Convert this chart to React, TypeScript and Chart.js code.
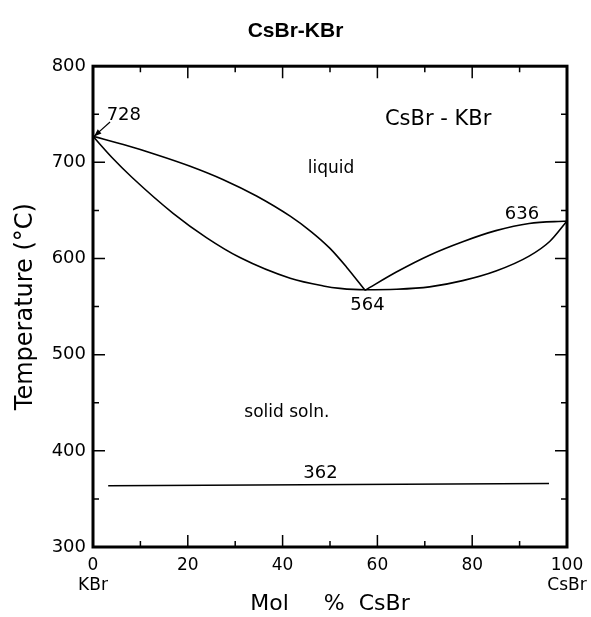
import React, { useEffect, useRef } from 'react';
import { Chart, registerables } from 'chart.js';

Chart.register(...registerables);

// Upper-left liquidus: from KBr melting point down to the 564 point
const curveAX = [0, 6.4, 13.4, 20.5, 27.5, 34.5, 41.6, 46, 50, 53.5, 57.4];
const curveAT = [727, 718.5, 708, 696, 682, 665, 644, 628, 610.5, 591, 567];

// Lower curve: from 728 down through the minimum and up to 636
const curveBX = [0, 4, 8.2, 16.9, 24, 31, 41.6, 48.6, 52.1, 57.4, 64, 71, 78, 85, 92, 96.4, 100];
const curveBT = [727, 705, 684.5, 647, 621.5, 601, 579.5, 571.5, 569, 567.5, 568, 570.5, 577, 587, 602.5, 618, 639];

// Upper-right liquidus: from the 564 point up to CsBr melting point
const curveCX = [57.4, 64, 71, 78, 85, 92, 100];
const curveCT = [567, 586, 603.5, 617.5, 629, 636.5, 639];

// 362 horizontal line
const lineX = [3.2, 96.2];
const lineT = [363.7, 366];

// Axis ticks
const xMajorTicks = [0, 20, 40, 60, 80, 100];
const xTickLabels: (string | string[])[] = [['0', 'KBr'], '20', '40', '60', '80', ['100', 'CsBr']];
const xAllTicks = [0, 10, 20, 30, 40, 50, 60, 70, 80, 90, 100];
const yAllTicks = [300, 350, 400, 450, 500, 550, 600, 650, 700, 750, 800];

// Text annotations (data coordinates)
const annTexts = ['728', 'CsBr - KBr', 'liquid', '636', '564', 'solid soln.', '362'];
const annX = [6.5, 72.8, 50.2, 90.5, 57.9, 40.9, 48];
const annT = [749, 745, 694, 646, 551, 439.5, 377];
const annSize = [18, 21, 17, 18, 18, 17, 18];

// Arrow from "728" label to the melting point
const arrowFrom = [3.6, 742];
const arrowTo = [0, 727];

const FONT = "'DejaVu Sans', sans-serif";

function pts(xs: number[], ys: number[]) {
  return xs.map((x, i) => ({ x, y: ys[i] }));
}

const decorPlugin = {
  id: 'decor',
  afterDatasetsDraw(chart: any) {
    const { ctx, chartArea } = chart;
    const { left, right, top, bottom } = chartArea;
    const xs = chart.scales.x;
    const ys = chart.scales.y;
    ctx.save();
    ctx.strokeStyle = '#000';
    ctx.fillStyle = '#000';
    ctx.lineCap = 'butt';
    // inward ticks
    ctx.lineWidth = 1.5;
    ctx.beginPath();
    for (const v of xAllTicks) {
      const px = xs.getPixelForValue(v);
      const len = v % 20 === 0 ? 12 : 6;
      ctx.moveTo(px, bottom);
      ctx.lineTo(px, bottom - len);
      ctx.moveTo(px, top);
      ctx.lineTo(px, top + len);
    }
    for (const v of yAllTicks) {
      const py = ys.getPixelForValue(v);
      const len = v % 100 === 0 ? 12 : 6;
      ctx.moveTo(left, py);
      ctx.lineTo(left + len, py);
      ctx.moveTo(right, py);
      ctx.lineTo(right - len, py);
    }
    ctx.stroke();
    // frame
    ctx.lineWidth = 3;
    ctx.strokeRect(left, top, right - left, bottom - top);
    // annotations
    ctx.textAlign = 'center';
    ctx.textBaseline = 'middle';
    annTexts.forEach((t, i) => {
      ctx.font = `${annSize[i]}px ${FONT}`;
      ctx.fillText(t, xs.getPixelForValue(annX[i]), ys.getPixelForValue(annT[i]));
    });
    // arrow
    const x1 = xs.getPixelForValue(arrowFrom[0]);
    const y1 = ys.getPixelForValue(arrowFrom[1]);
    const x2 = xs.getPixelForValue(arrowTo[0]) + 1;
    const y2 = ys.getPixelForValue(arrowTo[1]);
    ctx.lineWidth = 1.2;
    ctx.beginPath();
    ctx.moveTo(x1, y1);
    ctx.lineTo(x2, y2);
    ctx.stroke();
    const ang = Math.atan2(y2 - y1, x2 - x1);
    const hl = 8;
    ctx.beginPath();
    ctx.moveTo(x2, y2);
    ctx.lineTo(x2 - hl * Math.cos(ang - 0.35), y2 - hl * Math.sin(ang - 0.35));
    ctx.lineTo(x2 - hl * Math.cos(ang + 0.35), y2 - hl * Math.sin(ang + 0.35));
    ctx.closePath();
    ctx.fill();
    ctx.restore();
  },
};

export default function App() {
  const ref = useRef<HTMLCanvasElement>(null);
  useEffect(() => {
    if (!ref.current) return;
    const lineDs = (data: any[], smooth = true) => ({
      data,
      showLine: true,
      borderColor: '#000',
      borderWidth: 1.6,
      pointRadius: 0,
      fill: false,
      cubicInterpolationMode: smooth ? 'monotone' : 'default',
      tension: 0,
    });
    const chart = new Chart(ref.current, {
      type: 'scatter',
      data: {
        datasets: [
          lineDs(pts(curveAX, curveAT)),
          lineDs(pts(curveBX, curveBT)),
          lineDs(pts(curveCX, curveCT)),
          lineDs(pts(lineX, lineT), false),
        ] as any,
      },
      options: {
        responsive: false,
        animation: false,
        layout: { padding: { left: 24, right: 24, top: 0, bottom: 0 } },
        plugins: {
          legend: { display: false },
          tooltip: { enabled: false },
          title: {
            display: true,
            text: 'CsBr-KBr',
            color: '#000',
            font: { family: "'Liberation Sans', Arial, sans-serif", size: 21, weight: 'bold' },
            padding: { top: 19, bottom: 22 },
          },
        },
        scales: {
          x: {
            type: 'linear',
            min: 0,
            max: 100,
            grid: { display: false, drawTicks: false },
            border: { display: false },
            afterBuildTicks: (s: any) => {
              s.ticks = xMajorTicks.map((v) => ({ value: v }));
            },
            afterFit: (s: any) => {
              s.height = 70;
              s.paddingLeft = 0;
              s.paddingRight = 0;
            },
            ticks: {
              color: '#000',
              padding: 8,
              maxRotation: 0,
              autoSkip: false,
              font: { family: FONT, size: 17 },
              callback: (_v: any, i: number) => xTickLabels[i],
            },
            title: {
              display: true,
              text: 'Mol     %  CsBr',
              color: '#000',
              font: { family: FONT, size: 22 },
              padding: { top: 0, bottom: 0 },
            },
          },
          y: {
            type: 'linear',
            min: 300,
            max: 800,
            grid: { display: false, drawTicks: false },
            border: { display: false },
            afterFit: (s: any) => {
              s.width = 69;
            },
            ticks: {
              stepSize: 100,
              color: '#000',
              padding: 7,
              font: { family: FONT, size: 18 },
            },
            title: {
              display: true,
              text: 'Temperature (°C)',
              color: '#000',
              font: { family: FONT, size: 24 },
              padding: { top: -13, bottom: 0 },
            },
          },
        },
      } as any,
      plugins: [decorPlugin],
    });
    return () => chart.destroy();
  }, []);
  return (
    <div style={{ position: 'fixed', left: 0, top: 0, width: 591, height: 617, background: '#fff' }}>
      <canvas ref={ref} width={591} height={617} />
    </div>
  );
}
